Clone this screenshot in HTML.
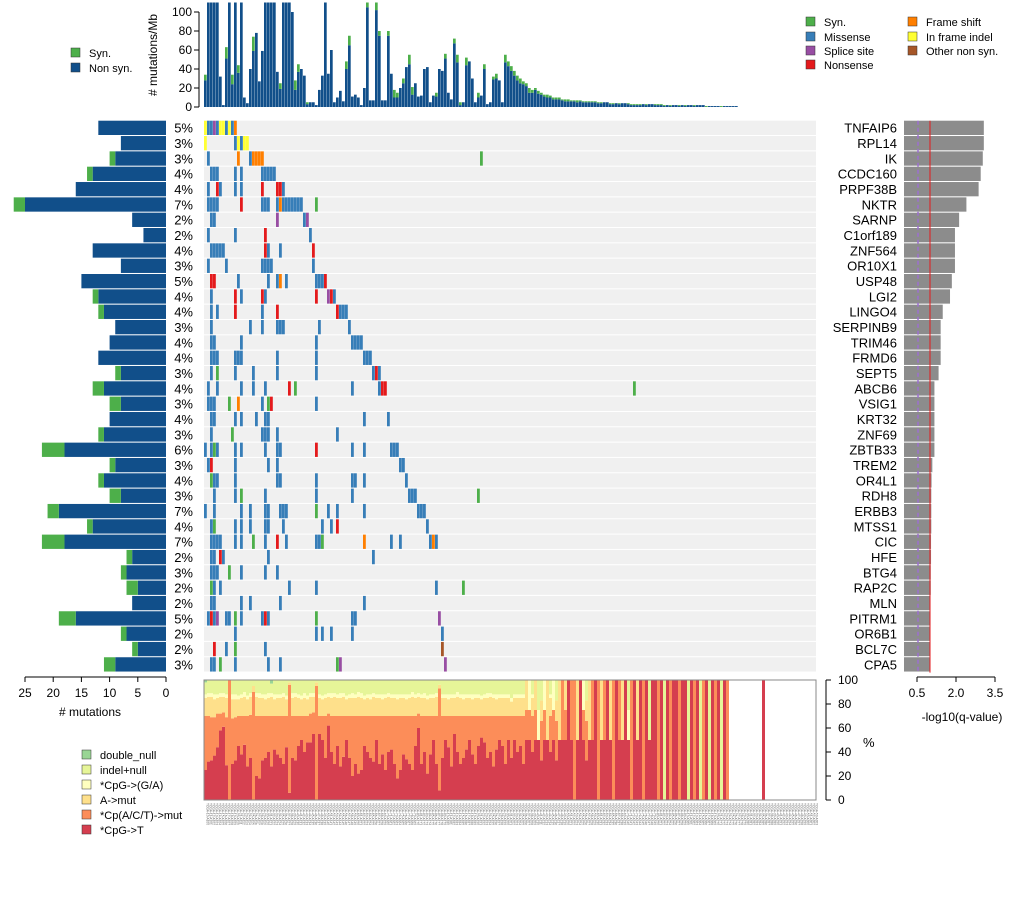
<!DOCTYPE html>
<html><head><meta charset="utf-8"><style>
body{margin:0;background:#fff;width:1020px;height:912px;overflow:hidden;font-family:"Liberation Sans",sans-serif}
svg text{font-family:"Liberation Sans",sans-serif}
</style></head><body>
<svg id="c" width="1020" height="912" xmlns="http://www.w3.org/2000/svg"></svg>
<script>
const genes=["TNFAIP6","RPL14","IK","CCDC160","PRPF38B","NKTR","SARNP","C1orf189","ZNF564","OR10X1","USP48","LGI2","LINGO4","SERPINB9","TRIM46","FRMD6","SEPT5","ABCB6","VSIG1","KRT32","ZNF69","ZBTB33","TREM2","OR4L1","RDH8","ERBB3","MTSS1","CIC","HFE","BTG4","RAP2C","MLN","PITRM1","OR6B1","BCL7C","CPA5"];
const pct=[5,3,3,4,4,7,2,2,4,3,5,4,4,3,4,4,3,4,3,4,3,6,3,4,3,7,4,7,2,3,2,2,5,2,2,3];
const nonsynCount=[12,8,9,13,16,25,6,4,13,8,15,12,11,9,10,12,8,11,8,10,11,18,9,11,8,19,13,18,6,7,5,6,16,7,5,9];
const synCount=[0,0,1,1,0,2,0,0,0,0,0,1,1,0,0,0,1,2,2,0,1,4,1,1,2,2,1,4,1,1,2,0,3,1,1,2];
const qval=[3.07,3.07,3.03,2.95,2.87,2.4,2.12,1.96,1.96,1.96,1.84,1.77,1.49,1.41,1.41,1.41,1.33,1.17,1.17,1.17,1.17,1.17,1.09,1.06,1.05,1.05,1.05,1.04,1.04,1.03,1.03,1.02,1.02,1.01,1.01,1.0];
const muts=[
[[0,5],[1,1],[2,1],[3,2],[4,1],[5,5],[6,5],[7,1],[8,5],[9,1],[10,4]],
[[0,5],[10,1],[11,5],[12,1],[13,5],[14,5]],
[[1,1],[11,4],[15,1],[16,4],[17,4],[18,4],[19,4],[92,0]],
[[2,1],[3,1],[4,1],[10,1],[12,1],[19,1],[20,1],[21,1],[22,1],[23,1]],
[[1,1],[4,3],[5,1],[10,1],[12,1],[19,3],[24,3],[25,3],[26,1]],
[[1,1],[2,1],[3,1],[4,1],[12,3],[19,1],[20,1],[21,1],[24,1],[25,4],[26,1],[27,1],[28,1],[29,1],[30,1],[31,1],[32,1],[37,0]],
[[2,1],[3,1],[24,2],[33,1],[34,2]],
[[1,1],[10,1],[20,3],[35,1]],
[[2,1],[3,1],[4,1],[5,1],[6,1],[20,3],[21,1],[25,1],[36,3]],
[[1,1],[7,1],[19,1],[20,1],[21,1],[22,1],[36,1]],
[[2,3],[3,3],[11,1],[21,1],[24,1],[25,4],[27,1],[37,1],[38,1],[39,1],[40,3]],
[[2,1],[10,3],[12,1],[19,3],[20,1],[37,3],[41,2],[42,3],[43,1]],
[[2,1],[4,1],[10,3],[19,1],[24,3],[44,3],[45,1],[46,1],[47,1]],
[[2,1],[15,1],[19,1],[24,1],[25,1],[26,1],[38,1],[48,1]],
[[2,1],[3,1],[12,1],[37,1],[49,1],[50,1],[51,1],[52,1]],
[[2,1],[3,1],[4,1],[10,1],[11,1],[12,1],[24,1],[37,1],[53,1],[54,1],[55,1]],
[[2,1],[4,0],[10,1],[16,1],[24,1],[37,1],[56,1],[57,3],[58,1]],
[[1,1],[4,1],[12,1],[16,1],[20,1],[28,3],[30,0],[49,1],[58,1],[59,3],[60,3],[143,0]],
[[1,1],[2,1],[3,1],[8,0],[11,4],[19,1],[21,0],[22,3],[37,1]],
[[2,1],[3,1],[10,1],[12,1],[17,1],[20,1],[21,1],[53,1],[61,1]],
[[2,1],[9,0],[19,1],[20,1],[21,1],[24,1],[44,1]],
[[0,1],[2,1],[3,0],[4,1],[10,1],[12,1],[20,1],[24,1],[25,1],[37,3],[49,1],[53,1],[62,1],[63,1],[64,1]],
[[1,1],[2,3],[10,1],[21,1],[24,1],[65,1],[66,1]],
[[2,0],[3,1],[4,1],[10,1],[24,1],[25,1],[37,1],[49,1],[50,1],[53,1],[67,1]],
[[3,1],[10,1],[12,0],[20,1],[37,1],[49,1],[68,1],[69,1],[70,1],[91,0]],
[[0,1],[3,1],[12,1],[15,1],[20,1],[21,1],[25,1],[26,1],[27,1],[37,0],[41,1],[44,1],[53,1],[71,1],[72,1],[73,1]],
[[2,1],[3,0],[10,1],[12,1],[15,1],[20,1],[21,1],[26,1],[39,1],[42,1],[44,3],[74,1]],
[[2,1],[3,1],[4,1],[5,1],[10,1],[12,1],[16,0],[20,1],[24,3],[27,1],[37,1],[38,1],[39,0],[53,4],[62,1],[65,1],[75,1],[76,4],[77,1]],
[[2,1],[3,1],[5,3],[6,1],[21,1],[56,1]],
[[2,1],[3,1],[4,1],[8,0],[12,1],[20,1],[24,1]],
[[2,0],[3,1],[5,1],[28,1],[37,1],[77,1],[86,0]],
[[2,1],[3,1],[12,1],[15,1],[25,1],[53,1]],
[[1,1],[2,3],[3,1],[4,2],[7,1],[8,1],[10,0],[12,1],[19,1],[20,3],[21,1],[37,0],[49,1],[50,1],[78,2]],
[[10,1],[37,1],[39,1],[42,1],[49,1],[79,1]],
[[3,3],[7,1],[10,0],[20,1],[79,6]],
[[2,1],[3,1],[5,0],[10,1],[21,1],[25,1],[44,0],[45,2],[80,2]]
];
const totals=[34,110,110,110,110,32,2,63,110,34,110,44,110,10,4,40,74,78,27,59,110,110,110,110,37,25,110,110,110,100,28,45,40,33,5,5,5,2,18,33,110,35,60,5,10,17,6,48,75,11,13,10,2,20,110,7,7,110,80,7,7,80,35,18,15,20,30,42,55,21,25,11,12,40,42,5,12,15,40,38,56,15,8,72,55,5,5,52,48,30,5,15,12,45,3,5,32,35,28,5,55,48,43,38,33,30,27,25,20,18,20,17,15,13,13,12,10,10,10,8,8,8,7,7,7,7,6,6,6,6,6,5,5,5,5,4,4,4,4,4,4,4,3,3,3,3,3,3,3,3,3,3,3,2,2,2,2,2,2,2,2,2,2,2,2,2,2,1,1,1,1,1,1,1,1,1,1,1];
const synMb=[6,0,0,0,0,0,0,12,0,10,0,8,0,0,0,0,15,0,0,0,0,0,0,0,0,6,0,0,0,0,10,8,0,0,2,0,0,0,0,0,0,0,0,0,0,0,0,8,10,0,0,0,0,0,5,0,0,8,5,0,0,5,0,8,5,0,5,0,10,8,0,0,0,0,0,0,0,4,0,0,5,0,0,5,8,3,0,8,0,0,0,5,0,5,0,0,3,5,0,0,8,5,5,5,5,5,3,3,5,3,2,3,2,2,3,2,2,2,2,1,2,2,1,1,2,1,1,1,1,1,1,1,1,0,0,1,1,0,1,0,0,1,1,1,1,1,0,1,0,0,1,1,1,1,0,1,0,0,1,0,1,0,0,1,0,0,0,1,0,0,0,0,1,0];
const cpgT=[25,32,33,37,44,58,61,29,0,30,33,45,38,46,28,35,0,20,18,33,35,40,28,42,38,
35,30,44,6,35,33,45,50,40,48,48,55,0,55,50,35,62,40,30,45,28,36,50,35,20,
30,22,25,45,40,35,32,50,30,38,25,40,42,30,18,25,38,34,30,25,45,60,30,40,22,
38,50,30,8,35,50,44,28,55,40,30,35,42,50,38,30,45,52,48,35,40,28,42,50,45,
30,50,35,50,40,45,30,50,50,40,50,50,33,50,50,40,50,33,50,50,50,100,50,0,50,
100,50,33,50,50,100,0,50,50,100,50,0,100,50,50,100,50,0,100,50,100,0,100,50,100,
100,0,100,0,100,0,100,100,0,100,100,0,100,0,100,0,0,100,0,100,0,100,0,100,0];
const cpACT=[45,38,36,32,28,14,12,40,100,38,36,25,32,24,42,36,90,50,52,37,35,30,42,28,32,
35,40,26,90,35,37,25,20,30,22,24,18,95,15,20,35,10,30,40,25,42,34,20,35,50,
40,48,45,25,30,35,38,20,40,32,45,30,28,40,52,45,32,36,40,45,25,12,40,30,48,
32,20,40,85,35,20,26,42,15,30,40,35,28,20,32,40,25,18,22,35,30,42,28,20,25,
40,20,35,20,30,25,40,25,25,30,25,0,33,25,0,30,25,33,0,50,25,0,50,100,0,
0,25,33,0,50,0,100,0,50,0,0,100,0,50,0,0,0,100,0,0,0,100,0,0,0,
0,100,0,0,0,100,0,0,100,0,0,0,0,100,0,0,100,0,0,0,100,0,0,0,100];
const aMut=[15,16,17,15,13,14,13,16,0,16,15,14,15,16,14,15,5,16,15,15,14,15,16,14,15,
15,16,14,2,15,16,15,14,15,14,14,13,3,15,14,15,14,15,16,15,15,16,14,15,15,
15,16,15,14,15,14,16,15,15,14,15,16,15,15,14,15,15,14,15,16,15,14,15,15,14,
15,15,16,3,15,15,14,15,15,16,15,14,15,15,14,15,15,14,15,15,16,15,14,15,15,
15,15,12,15,15,15,15,25,0,15,25,0,17,0,50,15,0,17,50,0,25,0,0,0,50,
0,0,17,50,0,0,0,50,0,0,50,0,0,0,50,0,0,0,0,50,0,0,0,0,0,
0,0,0,0,0,0,0,0,0,0,0,0,0,0,0,0,0,0,0,0,0,0,0,0,0];
const cpgGA=[3,3,3,4,3,3,3,3,0,4,4,3,3,4,3,3,0,3,4,3,4,4,3,4,3,
3,3,3,0,4,3,3,3,4,3,3,3,0,3,3,3,3,4,3,3,4,3,3,3,4,
3,4,4,3,3,4,3,3,3,4,3,3,3,3,4,3,3,4,3,4,3,3,3,4,3,
3,3,3,0,3,3,4,3,3,4,3,4,3,3,4,3,3,3,3,4,3,3,4,3,3,
3,3,3,3,3,3,3,0,25,3,0,25,0,25,0,3,25,0,0,0,0,0,0,0,0,
0,25,0,0,0,0,0,0,0,0,0,0,0,0,0,0,25,0,0,0,0,0,0,0,0,
0,0,0,0,0,0,0,0,0,0,0,0,0,0,0,0,0,0,0,0,0,0,0,0,0];
const dNull=[2,0,0,0,0,0,0,0,0,0,0,0,0,0,0,0,0,0,0,0,0,0,3,0,0];
const soloSamples=[186];
const topTicks=[0,20,40,60,80,100];
const leftTicks=[25,20,15,10,5,0];
const qTicks=["0.5","2.0","3.5"];
const pctTicks=[0,20,40,60,80,100];

const NS="http://www.w3.org/2000/svg",svg=document.getElementById('c');
function mk(tag,at,parent){const e=document.createElementNS(NS,tag);for(const k in at)e.setAttribute(k,at[k]);(parent||svg).appendChild(e);return e;}
function tx(s,x,y,at){const e=mk('text',Object.assign({x:x,y:y,'font-size':13,fill:'#000'},at||{}));e.textContent=s;return e;}
const X0=204,SW=3,NSAMP=204,MX1=X0+NSAMP*SW;
const sx=i=>X0+i*SW;
const RT=120.7,RP=15.33,RH=14.3;
const ry=g=>RT+g*RP;
const colors=["#4daf4a","#377eb8","#984ea3","#e41a1c","#ff7f00","#ffff33","#a65628"];
const ty=v=>107-Math.min(v,115)*0.95;
const gTop=mk('g',{});
totals.forEach((t,i)=>{const s=synMb[i]||0;
 const b=mk('rect',{x:sx(i),y:ty(t-s),width:2.7,height:107-ty(t-s),fill:'#114f8a'},gTop);
 
 if(s>0){const g=mk('rect',{x:sx(i),y:ty(t),width:2.7,height:ty(t-s)-ty(t),fill:'#4daf4a'},gTop);
 }});
mk('line',{x1:199,y1:ty(0),x2:199,y2:ty(100),stroke:'#000'});
topTicks.forEach(v=>{mk('line',{x1:194,y1:ty(v),x2:199,y2:ty(v),stroke:'#000'});
 const t=tx(String(v),192,ty(v)+4,{'text-anchor':'end','font-size':12});});
const yl=tx('# mutations/Mb',157,55,{'text-anchor':'middle','font-size':12,transform:'rotate(-90 157 55)'});
[["Syn.","#4daf4a",53],["Non syn.","#114f8a",68]].forEach(l=>{mk('rect',{x:71,y:l[2]-5,width:9,height:9,fill:l[1],stroke:'#333','stroke-width':0.5});
 const t=tx(l[0],89,l[2]+4,{'font-size':11});});
const lg=[["Syn.",0,810,22],["Missense",1,810,37],["Splice site",2,810,51],["Nonsense",3,810,65],["Frame shift",4,912,22],["In frame indel",5,912,37],["Other non syn.",6,912,51]];
lg.forEach(l=>{mk('rect',{x:l[2]-4,y:l[3]-5,width:9,height:9,fill:colors[l[1]],stroke:'#333','stroke-width':0.5});
 const t=tx(l[0],l[2]+14,l[3]+4,{'font-size':11});});
const lx=v=>166-v*5.64;
const qx=v=>904+v*26;
genes.forEach((g,gi)=>{const y=ry(gi);
 const bg=mk('rect',{x:X0,y:y,width:MX1-X0,height:RH,fill:'#f0f0f0'});
 muts[gi].forEach(m=>{const c=mk('rect',{x:sx(m[0]),y:y,width:2.8,height:RH,fill:colors[m[1]]});});
 const n=nonsynCount[gi],s=synCount[gi];
 const b=mk('rect',{x:lx(n),y:y,width:166-lx(n),height:RH,fill:'#114f8a'});
 if(s){const b2=mk('rect',{x:lx(n+s),y:y,width:lx(n)-lx(n+s),height:RH,fill:'#4daf4a'});}
 const p=tx(pct[gi]+'%',193,y+12,{'text-anchor':'end'});
 const gn=tx(g,897,y+12,{'text-anchor':'end'});
 const q=mk('rect',{x:904,y:y,width:qx(qval[gi])-904,height:RH,fill:'#8c8c8c'});
});
mk('line',{x1:918,y1:RT,x2:918,y2:ry(36),stroke:'#9b6fd0','stroke-width':1.5,'stroke-dasharray':'4,3'});
mk('line',{x1:930,y1:RT,x2:930,y2:ry(36),stroke:'#e41a1c','stroke-width':1});
mk('line',{x1:lx(25),y1:677,x2:lx(0),y2:677,stroke:'#000'});
leftTicks.forEach(v=>{mk('line',{x1:lx(v),y1:677,x2:lx(v),y2:682,stroke:'#000'});const t=tx(String(v),lx(v),697,{'text-anchor':'middle','font-size':12});});
const lt=tx('# mutations',90,716,{'text-anchor':'middle','font-size':12});
mk('line',{x1:qx(0.5),y1:677,x2:qx(3.5),y2:677,stroke:'#000'});
qTicks.forEach(v=>{const x=qx(parseFloat(v));mk('line',{x1:x,y1:677,x2:x,y2:682,stroke:'#000'});const t=tx(v,x,697,{'text-anchor':'middle','font-size':12});});
const qt=tx('-log10(q-value)',962,721,{'text-anchor':'middle','font-size':12});
const by=v=>800-v*1.2;
const bcol=["#d53e4f","#fc8d59","#fee08b","#ffffbf","#e6f598","#99d594"];
const gB=mk('g',{});
function stack(i,vals){let acc=0;
 vals.forEach((v,k)=>{if(v<=0)return;const r=mk('rect',{x:sx(i),y:by(acc+v),width:3,height:v*1.2,fill:bcol[k]},gB);
  acc+=v;});}
for(let i=0;i<cpgT.length;i++){
 const vals=[cpgT[i]||0,cpACT[i]||0,aMut[i]||0,cpgGA[i]||0,0,dNull[i]||0];
 const sum=vals.reduce((a,b)=>a+b,0);
 vals[4]=Math.max(0,100-sum);
 stack(i,vals);
}
soloSamples.forEach(i=>stack(i,[100,0,0,0,0,0]));
mk('rect',{x:X0,y:680,width:MX1-X0,height:120,fill:'none',stroke:'#888','stroke-width':1});
mk('line',{x1:826,y1:by(0),x2:826,y2:by(100),stroke:'#000'});
pctTicks.forEach(v=>{mk('line',{x1:826,y1:by(v),x2:831,y2:by(v),stroke:'#000'});const t=tx(String(v),838,by(v)+4,{'font-size':12});});
const pc=tx('%',863,747,{'font-size':13});
const gL=mk('g',{fill:'#555'});
for(let i=0;i<NSAMP;i++){const x=sx(i)+2.5;const t=mk('text',{x:x,y:803,'font-size':3.2,transform:'rotate(90 '+x+' 803)',fill:'#666'},gL);t.textContent='TCGA-'+(10+i%80)+'-A'+(100+i);}
const bl=[["double_null","#99d594"],["indel+null","#e6f598"],["*CpG->(G/A)","#ffffbf"],["A->mut","#fee08b"],["*Cp(A/C/T)->mut","#fc8d59"],["*CpG->T","#d53e4f"]];
bl.forEach((l,k)=>{const y=755+k*15;mk('rect',{x:82,y:y-5,width:9,height:9,fill:l[1],stroke:'#333','stroke-width':0.5});
 const t=tx(l[0],100,y+4,{'font-size':11});});
</script>
</body></html>
